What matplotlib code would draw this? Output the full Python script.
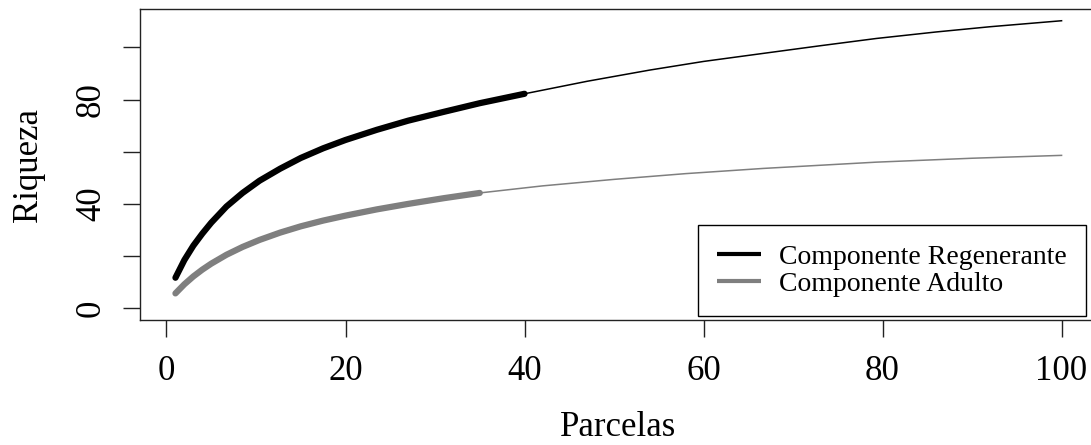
"""Species accumulation curves (Riqueza x Parcelas) for the two components."""

import matplotlib

matplotlib.use("Agg")
import matplotlib.pyplot as plt

plt.rcParams["font.family"] = ["Liberation Serif", "DejaVu Serif"]

# observed part (thick) and extrapolated part (thin) of each curve
reg_obs_x = [1, 2, 3, 4, 5, 6.7, 8.5, 10.4, 12.7, 15, 17.5, 20, 23.5, 27, 31, 35, 40]
reg_obs_y = [11.7, 18.5, 24.0, 28.6, 32.8, 39.0, 44.2, 48.9, 53.5, 57.6, 61.3, 64.5,
             68.4, 71.9, 75.3, 78.6, 82.2]
reg_ext_x = [40, 47, 54, 60, 66.7, 73, 79.3, 86, 92, 100]
reg_ext_y = [82.2, 87.0, 91.3, 94.6, 97.7, 100.6, 103.4, 105.9, 107.9, 110.2]

adu_obs_x = [1, 2, 3, 4, 5, 6.7, 8.5, 10.4, 12.7, 15, 17.5, 20, 23.5, 27, 31, 35]
adu_obs_y = [5.7, 9.2, 12.2, 14.8, 17.1, 20.5, 23.5, 26.2, 29.0, 31.4, 33.6, 35.5,
             37.9, 40.0, 42.2, 44.2]
adu_ext_x = [35, 42, 50, 58, 66.7, 79.3, 90, 100]
adu_ext_y = [44.2, 46.9, 49.4, 51.6, 53.6, 56.0, 57.5, 58.6]

labels = ["Componente Regenerante", "Componente Adulto"]
colors = ["black", "#7f7f7f"]

xticks = [0, 20, 40, 60, 80, 100]
yticks = [0, 20, 40, 60, 80, 100]
ytick_labels = ["0", "", "40", "", "80", ""]


def main() -> None:
    W, H = 1091, 445
    fig = plt.figure(figsize=(W / 100, H / 100), dpi=100)
    # plot box runs past the right edge of the picture, like the reference crop
    ax = fig.add_axes([140 / W, 1 - 320 / H, (1097 - 140) / W, (320 - 9) / H])

    ax.plot(reg_ext_x, reg_ext_y, color=colors[0], lw=1.1)
    ax.plot(adu_ext_x, adu_ext_y, color=colors[1], lw=1.1)
    ax.plot(reg_obs_x, reg_obs_y, color=colors[0], lw=4.5,
            solid_capstyle="round", solid_joinstyle="round", label=labels[0])
    ax.plot(adu_obs_x, adu_obs_y, color=colors[1], lw=4.5,
            solid_capstyle="round", solid_joinstyle="round", label=labels[1])

    ax.set_xlim(-2.96, 103.96)
    ax.set_ylim(-4.5, 114.7)
    ax.set_xticks(xticks)
    ax.set_yticks(yticks)
    ax.set_yticklabels(ytick_labels, rotation=90, va="center")
    ax.tick_params(direction="out", length=12, width=1, labelsize=25, color="#222")
    ax.tick_params(axis="x", pad=13)
    ax.tick_params(axis="y", pad=11)
    for sp in ax.spines.values():
        sp.set_linewidth(1.0)
        sp.set_color("#222")

    ax.set_xlabel("Parcelas", fontsize=25, labelpad=17)
    ax.set_ylabel("Riqueza", fontsize=25, labelpad=22)

    leg = ax.legend(
        loc="upper left",
        bbox_to_anchor=(698 / W, 1 - 225 / H),
        bbox_transform=fig.transFigure,
        fontsize=20,
        frameon=True,
        fancybox=False,
        framealpha=1,
        edgecolor="black",
        handlelength=1.55,
        handletextpad=0.65,
        labelspacing=0.05,
        borderpad=0.7,
        borderaxespad=0,
    )
    leg.get_frame().set_linewidth(1.0)
    for line in leg.get_lines():
        line.set_linewidth(3)
        line.set_solid_capstyle("butt")

    fig.savefig("out.png", dpi=100)


if __name__ == "__main__":
    main()
